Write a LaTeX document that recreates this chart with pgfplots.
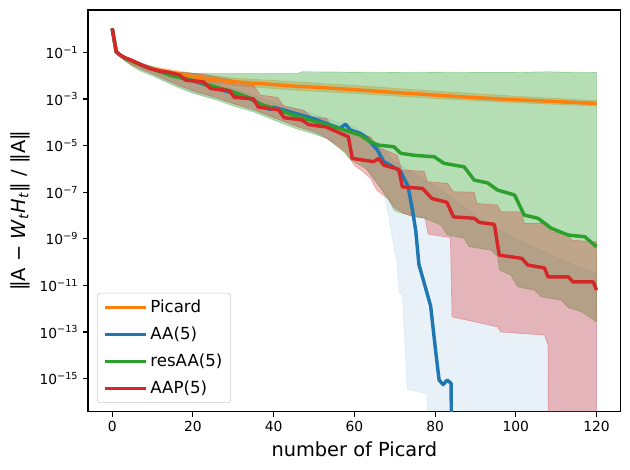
\documentclass[border=0pt]{standalone}
\usepackage{fontspec}
\setmainfont{DejaVu Sans}
\usepackage{pgfplots}
\pgfplotsset{compat=1.18}
\definecolor{cOr}{HTML}{FF7F0E}
\definecolor{cBl}{HTML}{1F77B4}
\definecolor{cGr}{HTML}{2CA02C}
\definecolor{cRd}{HTML}{D62728}
\newcommand{\pw}[1]{10\textsuperscript{−#1}}
\begin{document}
\begin{tikzpicture}
\useasboundingbox (0,0) rectangle (6.3in,4.7in);
\begin{axis}[
  at={(0.88in,0.583in)}, anchor=south west,
  width=5.327in, height=4.017in, scale only axis,
  xmin=-6, xmax=126, ymin=-16.42, ymax=0.82,
  xtick={0,20,40,60,80,100,120},
  xticklabels={0,20,40,60,80,100,120},
  ytick={-15,-13,-11,-9,-7,-5,-3,-1},
  yticklabels={\pw{15},\pw{13},\pw{11},\pw{9},\pw{7},\pw{5},\pw{3},\pw{1}},
  minor tick num=0,
  tick pos=left, tick align=outside,
  major tick length=3.5pt,
  tick style={line width=0.8pt, black},
  axis line style={line width=0.8pt},
  ticklabel style={font=\fontsize{10}{12}\selectfont},
  xlabel={number of Picard},
  ylabel={‖A − \textit{W}\textsubscript{\textit{t}}\textit{H}\textsubscript{\textit{t}}‖ / ‖A‖},
  label style={font=\fontsize{14}{17}\selectfont},
  legend cell align=left,
  legend style={at={(axis description cs:0.0169,0.0217)}, anchor=south west,
    font=\fontsize{12}{14}\selectfont, draw=black!20, rounded corners=2pt,
    fill=white, fill opacity=0.8, text opacity=1, row sep=4.9pt,
    inner xsep=4pt, inner ysep=3pt},
  legend image code/.code={\path (-0.05cm,0cm) -- (1.0cm,0cm); \draw[#1, line width=2.3pt] (0cm,0cm) -- (0.9cm,0cm);},
  every axis plot/.append style={line join=round},
]
% ---- bands ----
% Picard band
\addplot[forget plot, fill=cOr, fill opacity=0.3, draw=cOr, draw opacity=0.3, line width=0.5pt] coordinates {
(0,0.03) (1,-0.96) (3,-1.2) (5,-1.36) (10,-1.6) (20,-1.9) (30,-2.1) (46,-2.27) (60,-2.42) (80,-2.66) (100,-2.88) (120,-3.07)
(120,-3.3) (100,-3.16) (80,-2.98) (60,-2.76) (46,-2.63) (30,-2.42) (20,-2.18) (10,-1.8) (5,-1.44) (3,-1.26) (1,-0.98) (0,0.03)
} -- cycle;
% AA band
\addplot[forget plot, fill=cBl, fill opacity=0.1, draw=cBl, draw opacity=0.1, line width=0.5pt] coordinates {
(0,0.03) (1,-0.96) (5,-1.3) (10,-1.6) (15,-1.85) (20,-2.05) (30,-2.55) (40,-3.15) (50,-3.65) (56,-4.0) (60,-4.2) (65,-4.8) (70,-5.7) (76,-6.3) (84,-7.2) (90,-8.0) (100,-9.0) (110,-9.8) (120,-10.5)
(120,-30) (78.2,-30) (78,-15.65) (75.5,-15.55) (73.1,-15.45) (71.9,-11.42) (71.1,-11.3) (70.5,-9.9) (69.4,-9.0) (68.6,-8.06) (67.3,-7.05) (65,-6.5) (63,-6.0) (60,-5.4) (55,-4.85) (50,-4.45) (45,-4.1) (40,-3.8) (35,-3.5) (30,-3.2) (25,-2.95) (20,-2.7) (15,-2.35) (10,-1.95) (5,-1.55) (3,-1.33) (1,-0.98) (0,0.03)
} -- cycle;
% resAA band
\addplot[forget plot, fill=cGr, fill opacity=0.35, draw=cGr, draw opacity=0.35, line width=0.5pt] coordinates {
(0,0.03) (1,-0.95) (3,-1.22) (5,-1.38) (8,-1.58) (12,-1.74) (16,-1.84) (20,-1.89) (25,-1.9) (35,-1.9) (46,-1.9) (47,-1.83) (60,-1.85) (70,-1.86) (80,-1.85) (90,-1.86) (100,-1.86) (108,-1.83) (112,-1.85) (120,-1.86)
(120,-12.56) (116.3,-12.13) (113,-11.95) (111.3,-11.63) (106.3,-11.49) (104.6,-11.2) (100.5,-11.06) (98.8,-10.56) (96,-10.34) (95.5,-9.75) (93.8,-9.48) (88.4,-9.34) (87.2,-8.98) (83.1,-8.84) (81.4,-8.41) (80,-8.3) (77.3,-8.12) (74,-8.0) (70.6,-7.84) (69.8,-7.75) (68.1,-7.2) (65.7,-6.62) (63.2,-6.05) (61.5,-5.85) (60,-5.7) (59,-5.6) (57.4,-5.27) (53.2,-4.69) (50,-4.5) (46,-4.3) (40,-3.9) (35,-3.55) (30,-3.3) (26,-3.05) (20,-2.75) (17,-2.55) (15,-2.4) (10,-2.0) (7,-1.8) (5,-1.6) (3,-1.35) (1,-0.98) (0,0.03)
} -- cycle;
% AAP band
\addplot[forget plot, fill=cRd, fill opacity=0.3, draw=cRd, draw opacity=0.3, line width=0.5pt] coordinates {
(0,0.03) (1,-0.95) (3,-1.2) (5,-1.32) (8,-1.53) (10,-1.65) (13,-1.78) (16,-1.84) (20,-1.9) (23.4,-1.97) (30,-2.19) (35,-2.4) (36.7,-2.83) (41,-2.93) (42.5,-3.3) (47.4,-3.48) (49.3,-3.76) (53.2,-3.83) (54,-4.12) (56.5,-4.3) (59.9,-4.55) (64,-4.62) (65.7,-5.05) (70.6,-5.41) (71.8,-6.05) (77.3,-6.1) (78.1,-6.55) (83.1,-6.62) (84.5,-6.98) (89.7,-7.0) (90.4,-7.48) (95.5,-7.55) (96.3,-7.84) (101.5,-7.84) (102.1,-8.34) (108,-8.34) (108.8,-8.7) (113,-8.77) (113.8,-9.06) (120,-9.13)
(120,-30) (108.3,-30) (108,-13.56) (107.1,-13.13) (96.3,-13.0) (95.5,-12.78) (89.7,-12.56) (84.2,-12.35) (83.8,-8.95) (78.3,-8.8) (77.5,-8.1) (74.8,-8.06) (72.3,-7.91) (69.8,-7.63) (68.5,-7.3) (67,-7.1) (65.5,-6.9) (64,-6.4) (62,-6.1) (60,-5.85) (58,-5.3) (55,-4.9) (52,-4.55) (50,-4.4) (46,-4.2) (40,-3.8) (35,-3.45) (30,-3.2) (26,-2.95) (20,-2.65) (17,-2.45) (15,-2.3) (10,-1.92) (7,-1.72) (5,-1.55) (3,-1.32) (1,-0.98) (0,0.03)
} -- cycle;
% ---- lines ----
\addplot[cOr, line width=2.5pt] coordinates {
(0,0.03) (1,-0.97) (2,-1.12) (3,-1.23) (4,-1.32) (5,-1.4) (7,-1.53) (9,-1.65) (11,-1.74) (13,-1.81) (15,-1.88) (17,-1.94) (20,-2.04) (22,-2.1) (25,-2.17) (30,-2.26) (35,-2.32) (40,-2.38) (46,-2.46) (52,-2.51) (60,-2.6) (70,-2.72) (80,-2.83) (86,-2.9) (95,-2.99) (100,-3.03) (110,-3.11) (120,-3.19)
};
\addlegendentry{Picard}
\addplot[cBl, line width=2.5pt] coordinates {
(0,0.03) (1,-0.97) (2,-1.12) (3,-1.23) (5,-1.38) (7,-1.53) (10,-1.72) (13,-1.88) (16,-2.03) (20,-2.22) (23,-2.38) (26,-2.55) (30,-2.75) (34,-2.98) (37,-3.25) (39,-3.45) (40,-3.35) (43,-3.5) (46,-3.65) (50,-3.85) (53,-4.05) (56.5,-4.26) (57.8,-4.08) (59,-4.33) (61.5,-4.48) (63,-4.65) (65,-5.05) (65.7,-5.19) (67.3,-5.69) (70,-5.95) (71.5,-6.12) (73.3,-6.75) (74.4,-7.77) (75.2,-8.63) (76,-10.1) (78.9,-11.88) (80.2,-13.9) (81,-15.06) (82,-15.26) (83,-15.06) (84,-15.21) (84.1,-30)
};
\addlegendentry{AA(5)}
\addplot[cGr, line width=2.5pt] coordinates {
(0,0.03) (1,-0.97) (2,-1.12) (3,-1.23) (5,-1.38) (8,-1.6) (10,-1.72) (13,-1.9) (15,-2.02) (18,-2.13) (20,-2.2) (25,-2.45) (30,-2.7) (34,-2.95) (36.7,-3.22) (40,-3.4) (44.9,-3.69) (50,-3.95) (53.2,-4.12) (57,-4.3) (61.5,-4.55) (64,-4.84) (66,-4.98) (69.8,-5.05) (71.5,-5.33) (75,-5.42) (79.8,-5.48) (82.2,-5.76) (84.8,-5.84) (87.2,-5.91) (89.7,-6.48) (93,-6.6) (95.5,-6.91) (99.7,-7.12) (102.1,-7.98) (105.5,-8.12) (108.8,-8.55) (113,-8.84) (117.1,-8.91) (120,-9.34)
};
\addlegendentry{resAA(5)}
\addplot[cRd, line width=2.5pt] coordinates {
(0,0.03) (1,-0.97) (2,-1.12) (3,-1.22) (5,-1.35) (7,-1.52) (9.3,-1.69) (11.8,-1.8) (13.4,-1.83) (16.7,-1.97) (18.2,-2.19) (22.5,-2.26) (24.4,-2.55) (29,-2.64) (30.3,-2.93) (35,-2.99) (36.2,-3.35) (41.2,-3.46) (42.6,-3.8) (47,-3.9) (48.7,-4.1) (53,-4.2) (58.5,-4.62) (59.5,-5.55) (64.8,-5.69) (66,-5.55) (67.3,-5.84) (71,-6.02) (71.9,-6.77) (76.9,-6.84) (79.2,-7.27) (82.9,-7.43) (84.6,-8.06) (89.7,-8.12) (91,-8.3) (94.7,-8.38) (95.9,-9.7) (101.5,-9.84) (103,-10.13) (107.1,-10.25) (108,-10.63) (113,-10.63) (114.2,-10.85) (119.2,-10.85) (120,-11.2)
};
\addlegendentry{AAP(5)}
\end{axis}
\end{tikzpicture}
\end{document}
